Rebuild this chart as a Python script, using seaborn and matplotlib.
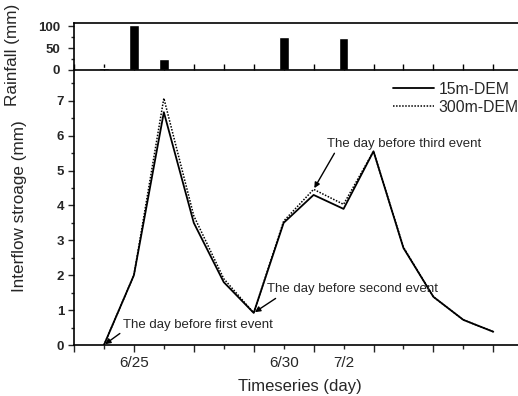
import matplotlib
matplotlib.use('Agg')
import matplotlib.pyplot as plt
import numpy as np
import pandas as pd
import seaborn as sns
from matplotlib.ticker import FixedLocator, FixedFormatter, MultipleLocator, NullFormatter

# ---------------- data ----------------
days = [1, 2, 3, 4, 5, 6, 7, 8, 9, 10, 11, 12, 13, 14]          # 0 = 6/23
storage_15m = [0.0, 2.0, 6.67, 3.5, 1.8, 0.92, 3.5, 4.3, 3.9, 5.55, 2.78, 1.38, 0.72, 0.38]
storage_300m = [0.0, 2.0, 7.07, 3.7, 1.9, 0.92, 3.55, 4.46, 4.03, 5.55, 2.8, 1.38, 0.72, 0.38]

rain_days = list(range(0, 16))
rainfall = [0, 5, 104, 25, 0, 0, 0, 76, 0, 73, 0, 0, 0, 0, 0, 0]

label_days = [2, 7, 9]
label_texts = ['6/25', '6/30', '7/2']

series_names = ['15m-DEM', '300m-DEM']
notes = ['The day before first event', 'The day before second event', 'The day before third event']

# ---------------- style ----------------
sns.set_theme(style='ticks')
plt.rcParams['font.family'] = ['Liberation Sans', 'DejaVu Sans']
plt.rcParams['axes.linewidth'] = 1.2

W, H = 518, 396
fig = plt.figure(figsize=(W / 100, H / 100), dpi=100)
fig.patch.set_facecolor('white')


def rect(l, t, r, b):
    return [l / W, 1 - b / H, (r - l) / W, (b - t) / H]


ax = fig.add_axes(rect(74, 71, 529, 345))
axr = fig.add_axes(rect(74, 23, 529, 70))
XMAX = (529 - 74) / 29.95

# ---------------- rainfall panel ----------------
df_rain = pd.DataFrame({'day': rain_days, 'rain': rainfall})
sns.barplot(data=df_rain, x='day', y='rain', native_scale=True, color='black',
            saturation=1, width=0.33, errorbar=None, ax=axr)
axr.set_xlim(0, XMAX)
axr.set_ylim(0, 108)
axr.set_xlabel('')
axr.set_ylabel('')
axr.xaxis.set_major_locator(FixedLocator(rain_days))
axr.xaxis.set_major_formatter(NullFormatter())
axr.tick_params(axis='x', direction='in', length=4, width=1, color='black')
axr.yaxis.set_major_locator(FixedLocator([0, 50, 100]))
axr.yaxis.set_minor_locator(FixedLocator([25, 75]))
axr.tick_params(axis='y', which='major', direction='out', length=4, width=1, labelsize=9.5, pad=6)
axr.tick_params(axis='y', which='minor', direction='out', length=2.5, width=1)
for t in axr.get_yticklabels():
    t.set_fontweight('bold')
for s in axr.spines.values():
    s.set_color('black')
    s.set_linewidth(1.2)

# ---------------- storage panel ----------------
sns.lineplot(x=days, y=storage_15m, color='black', lw=1.3, label=series_names[0], ax=ax)
sns.lineplot(x=days, y=storage_300m, color='black', lw=1.1, linestyle=(0, (1, 1)),
             label=series_names[1], ax=ax)
ax.set_xlim(0, XMAX)
ax.set_ylim(0, (345 - 71) / 34.9)
ax.spines['top'].set_visible(False)
for s in ax.spines.values():
    s.set_color('black')
    s.set_linewidth(1.2)

ax.xaxis.set_major_locator(FixedLocator(list(range(0, 16, 2))))
ax.xaxis.set_minor_locator(FixedLocator(list(range(1, 16, 2))))
maj_labels = [label_texts[label_days.index(d)] if d in label_days else '' for d in range(0, 16, 2)]
min_labels = [label_texts[label_days.index(d)] if d in label_days else '' for d in range(1, 16, 2)]
ax.xaxis.set_major_formatter(FixedFormatter(maj_labels))
ax.xaxis.set_minor_formatter(FixedFormatter(min_labels))
ax.tick_params(axis='x', which='major', direction='out', length=5, width=1, labelsize=11, pad=3)
ax.tick_params(axis='x', which='minor', direction='out', length=3, width=1, labelsize=11, pad=5)

ax.yaxis.set_major_locator(MultipleLocator(1))
ax.yaxis.set_minor_locator(MultipleLocator(0.5))
ax.tick_params(axis='y', which='major', direction='out', length=4, width=1, labelsize=9.5, pad=3)
ax.tick_params(axis='y', which='minor', direction='out', length=2.5, width=1)
for t in ax.get_yticklabels():
    t.set_fontweight('bold')
ax.set_xlabel('')
ax.set_ylabel('')

leg = ax.legend(loc='upper left', bbox_to_anchor=(385 / W, 1 - 74 / H),
                bbox_transform=fig.transFigure, frameon=False, fontsize=11.3,
                handlelength=2.6, handletextpad=0.3, borderpad=0, labelspacing=0.2)

# annotations
arrow = dict(arrowstyle='-|>', color='black', lw=1.0, mutation_scale=8, shrinkA=0, shrinkB=1)
ax.annotate(notes[0], xy=(days[0], storage_15m[0]), xytext=(1.64, 0.57),
            ha='left', va='center', fontsize=9.5,
            arrowprops=dict(arrow, relpos=(0.0, 0.0)))
ax.annotate(notes[1], xy=(days[5], storage_15m[5]), xytext=(6.44, 1.60),
            ha='left', va='center', fontsize=9.5,
            arrowprops=dict(arrow, relpos=(0.08, 0.0)))
ax.annotate(notes[2], xy=(days[7], storage_300m[7]), xytext=(8.45, 5.76),
            ha='left', va='center', fontsize=9.5,
            arrowprops=dict(arrow, relpos=(0.06, 0.0)))

# axis labels
fig.text(300 / W, 1 - 386 / H, 'Timeseries (day)', ha='center', va='center', fontsize=12)
fig.text(20 / W, 1 - 206 / H, 'Interflow stroage (mm)', ha='center', va='center',
         rotation=90, fontsize=12.3)
fig.text(13 / W, 1 - 55 / H, 'Rainfall (mm)', ha='center', va='center',
         rotation=90, fontsize=12.3)

fig.savefig('out.png', dpi=100)
